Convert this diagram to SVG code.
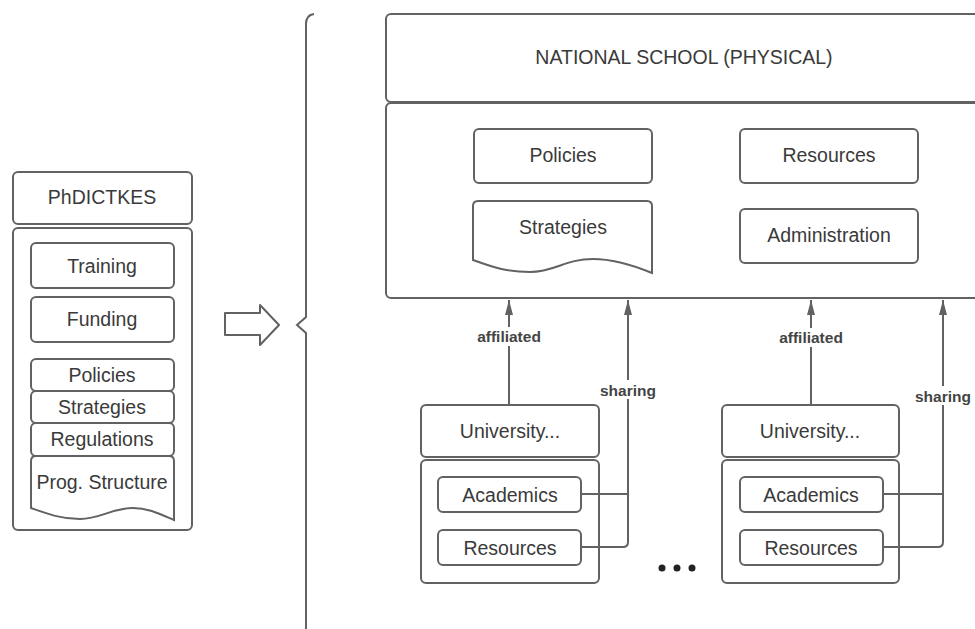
<svg xmlns="http://www.w3.org/2000/svg" width="975" height="629" viewBox="0 0 975 629">
<style>
.b{fill:#fff;stroke:#626262;stroke-width:2}
.l{fill:none;stroke:#626262;stroke-width:2}
.t{font-family:"Liberation Sans",Arial,sans-serif;font-size:19.5px;fill:#3a3a3a;text-anchor:middle;dominant-baseline:central}
.lb{font-family:"Liberation Sans",Arial,sans-serif;font-size:15.5px;font-weight:bold;fill:#444;text-anchor:middle;dominant-baseline:central}
</style>
<defs>
<marker id="ah" viewBox="0 0 16 10" refX="15" refY="5" markerWidth="16" markerHeight="10" markerUnits="userSpaceOnUse" orient="auto">
<path d="M0,1 L15,5 L0,9 Z" fill="#626262"/>
</marker>
</defs>
<rect width="975" height="629" fill="#fff"/>

<g id="phdictkes">
<rect class="b" x="13" y="172" width="179" height="52" rx="5"/>
<text class="t" x="102" y="197">PhDICTKES</text>
<rect class="b" x="13" y="228" width="179" height="302" rx="5"/>
</g>
<g id="training"><rect class="b" x="31" y="243" width="143" height="45" rx="5"/><text class="t" x="102" y="266">Training</text></g>
<g id="funding"><rect class="b" x="31" y="297" width="143" height="45" rx="5"/><text class="t" x="102" y="319">Funding</text></g>
<g id="policies-l"><rect class="b" x="31" y="359" width="143" height="32" rx="5"/><text class="t" x="102" y="375">Policies</text></g>
<g id="strategies-l"><rect class="b" x="31" y="391" width="143" height="32" rx="5"/><text class="t" x="102" y="407">Strategies</text></g>
<g id="regulations-l"><rect class="b" x="31" y="423" width="143" height="33" rx="5"/><text class="t" x="102" y="439">Regulations</text></g>
<g id="progstructure-l">
<path class="b" d="M31,461 Q31,456 36,456 H169 Q174,456 174,461 V520 C160,514 148,508 133,508 C112,508 100,519 80,519 C60,519 45,513 31,508 Z"/>
<text class="t" x="102" y="482">Prog. Structure</text>
</g>

<g id="blockarrow">
<path class="l" stroke-linejoin="round" d="M225,313 H260 V305 L279,325 L260,345 V335 H225 Z"/>
</g>
<g id="brace">
<path class="l" d="M314,14 Q306,15 306,24 V317 L297,325 L306,333 V640"/>
</g>

<g id="national">
<rect class="b" x="386" y="14" width="600" height="88" rx="5"/>
<text class="t" x="684" y="57">NATIONAL SCHOOL (PHYSICAL)</text>
<rect class="b" x="386" y="103" width="600" height="195" rx="5"/>
</g>
<g id="policies"><rect class="b" x="474" y="129" width="178" height="54" rx="5"/><text class="t" x="563" y="155">Policies</text></g>
<g id="resources"><rect class="b" x="740" y="129" width="178" height="54" rx="5"/><text class="t" x="829" y="155">Resources</text></g>
<g id="strategies">
<path class="b" d="M473,206 Q473,201 478,201 H647 Q652,201 652,206 V273 C635,266 615,259 593,259 C565,259 555,272 530,272 C505,272 490,266 473,260 Z"/>
<text class="t" x="563" y="227">Strategies</text>
</g>
<g id="administration"><rect class="b" x="740" y="209" width="178" height="54" rx="5"/><text class="t" x="829" y="235">Administration</text></g>

<g id="university1">
<rect class="b" x="421" y="405" width="178" height="52" rx="5"/>
<text class="t" x="510" y="431">University...</text>
<rect class="b" x="421" y="460" width="178" height="123" rx="5"/>
</g>
<g id="academics1"><rect class="b" x="438" y="477" width="143" height="35" rx="5"/><text class="t" x="510" y="495">Academics</text></g>
<g id="resources1"><rect class="b" x="438" y="530" width="143" height="35" rx="5"/><text class="t" x="510" y="548">Resources</text></g>

<g id="university2">
<rect class="b" x="722" y="405" width="177" height="52" rx="5"/>
<text class="t" x="810" y="431">University...</text>
<rect class="b" x="722" y="460" width="177" height="123" rx="5"/>
</g>
<g id="academics2"><rect class="b" x="740" y="477" width="143" height="35" rx="5"/><text class="t" x="811" y="495">Academics</text></g>
<g id="resources2"><rect class="b" x="740" y="530" width="143" height="35" rx="5"/><text class="t" x="811" y="548">Resources</text></g>

<g id="connectors">
<path class="l" d="M509,405 V300" marker-end="url(#ah)"/>
<path class="l" d="M581,494 H628 M581,547 H623 Q628,547 628,542 V300" marker-end="url(#ah)"/>
<path class="l" d="M811,405 V300" marker-end="url(#ah)"/>
<path class="l" d="M883,494 H943 M883,547 H938 Q943,547 943,542 V300" marker-end="url(#ah)"/>
<rect x="472" y="327" width="74" height="19" fill="#fff"/>
<text class="lb" x="509" y="336">affiliated</text>
<rect x="596" y="380" width="64" height="19" fill="#fff"/>
<text class="lb" x="628" y="390">sharing</text>
<rect x="774" y="328" width="74" height="19" fill="#fff"/>
<text class="lb" x="811" y="337">affiliated</text>
<rect x="911" y="386" width="64" height="19" fill="#fff"/>
<text class="lb" x="943" y="396">sharing</text>
</g>

<g id="ellipsis" fill="#222">
<circle cx="662" cy="568" r="3.5"/>
<circle cx="677" cy="568" r="3.5"/>
<circle cx="692" cy="568" r="3.5"/>
</g>
</svg>
